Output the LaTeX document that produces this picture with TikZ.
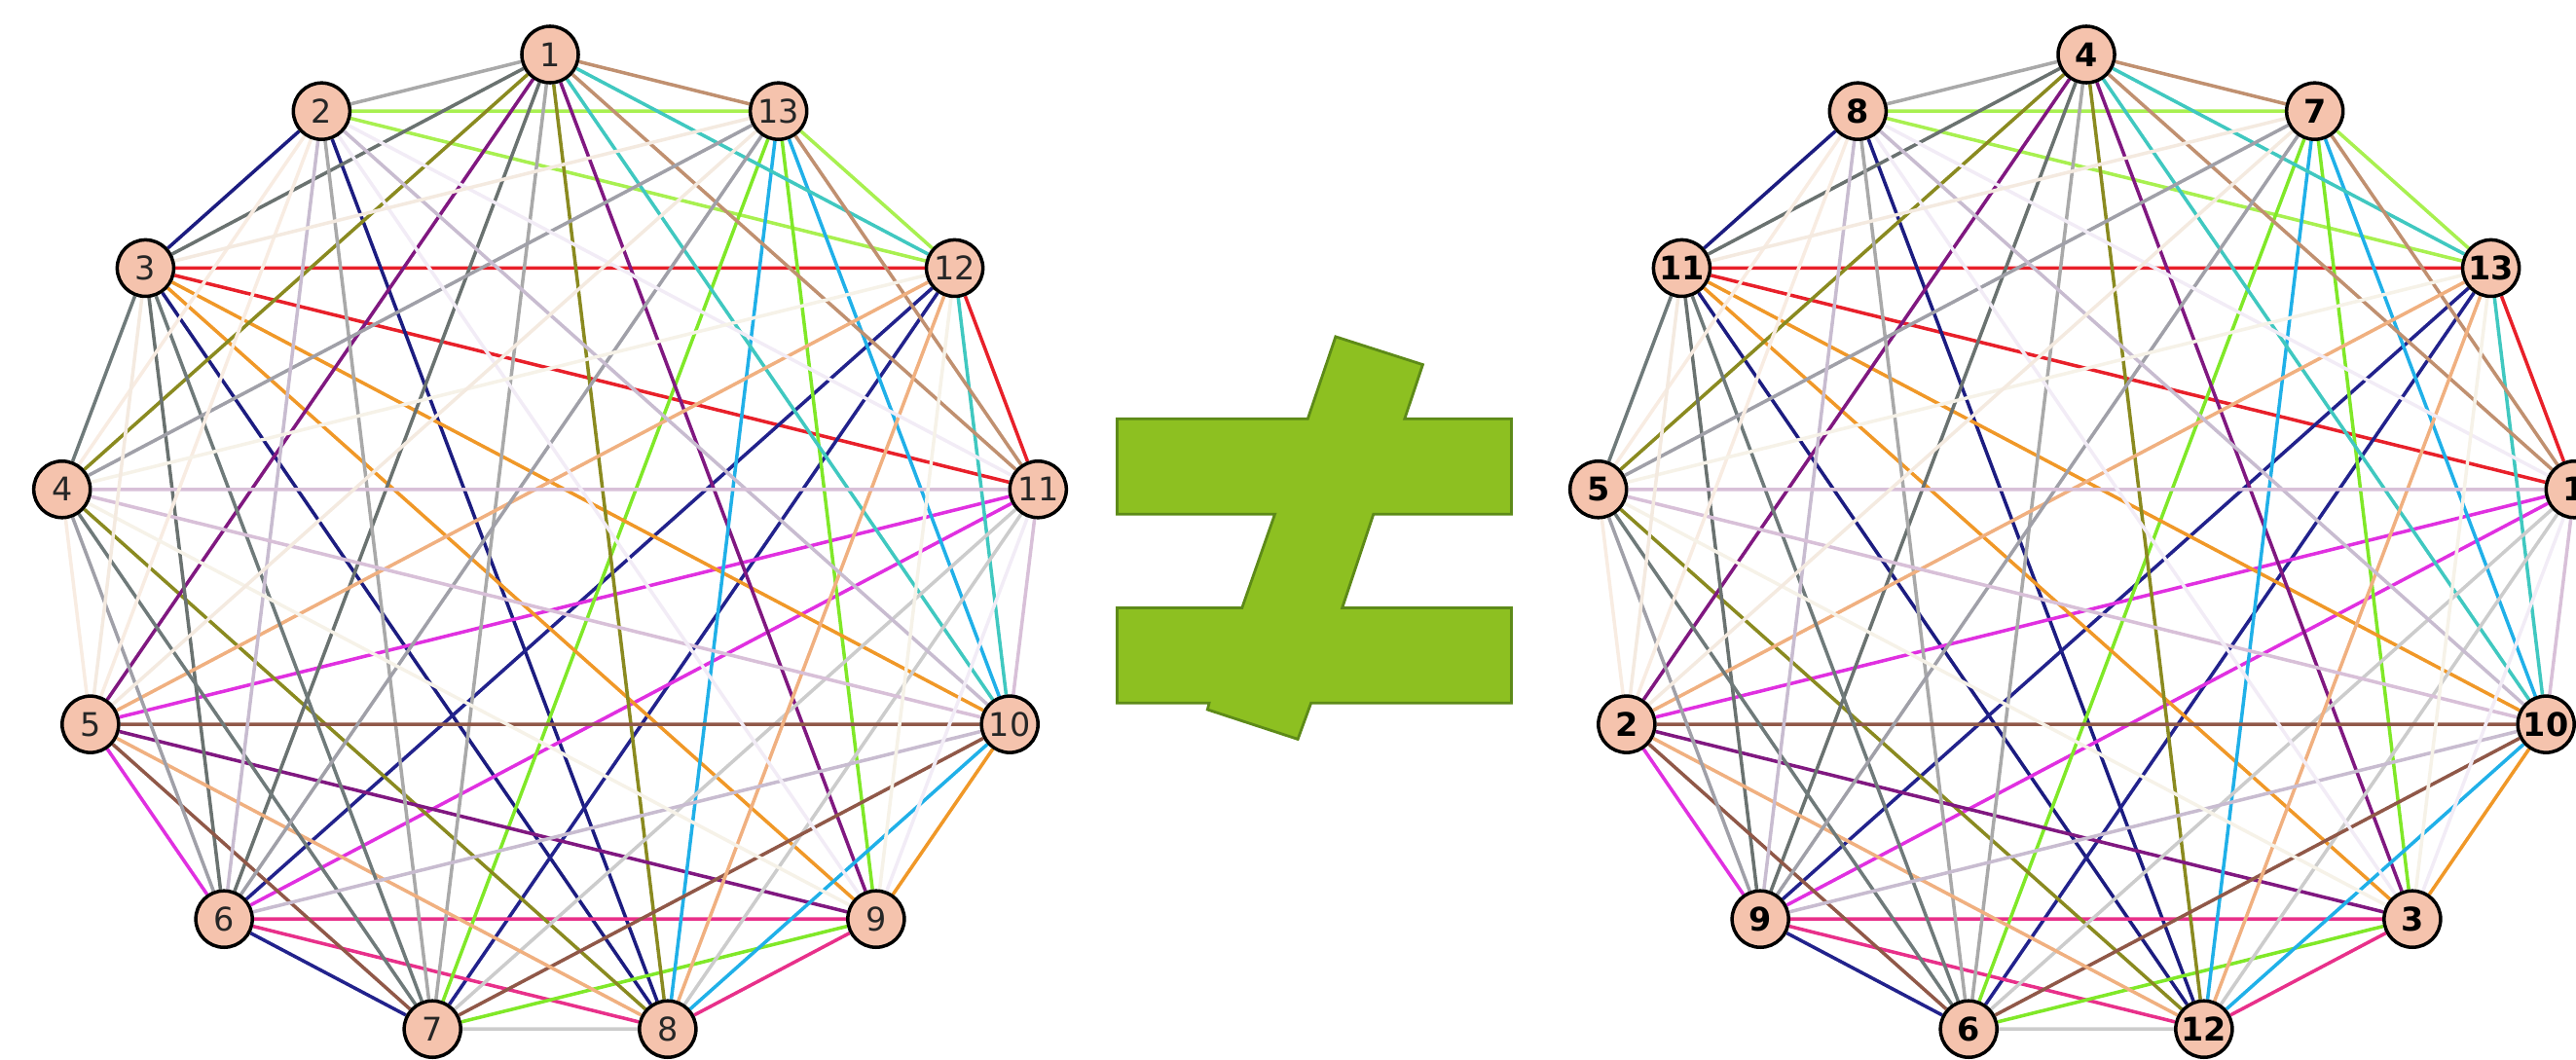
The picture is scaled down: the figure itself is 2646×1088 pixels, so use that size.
\documentclass[tikz,border=0pt]{standalone}
\usepackage{fontspec}
\setmainfont{DejaVu Sans}
\definecolor{nodefill}{HTML}{F5C3AD}
\definecolor{cRed}{HTML}{E8202A}
\definecolor{cNavyA}{HTML}{1C1C80}
\definecolor{cNavyB}{HTML}{22228C}
\definecolor{cDeepPink}{HTML}{E8308A}
\definecolor{cMagenta}{HTML}{E030E0}
\definecolor{cGreenYellow}{HTML}{A8F050}
\definecolor{cLawn}{HTML}{80E828}
\definecolor{cOrange}{HTML}{F09828}
\definecolor{cOlive}{HTML}{8A8A20}
\definecolor{cPurple}{HTML}{801880}
\definecolor{cDimGrey}{HTML}{6A7270}
\definecolor{cSky}{HTML}{20B0E8}
\definecolor{cTurq}{HTML}{40C8C0}
\definecolor{cTan}{HTML}{C09070}
\definecolor{cDarkGrey}{HTML}{A9A9A9}
\definecolor{cLightGrey}{HTML}{CCCCCC}
\definecolor{cBrown}{HTML}{905848}
\definecolor{cSandy}{HTML}{F0B080}
\definecolor{cSlate}{HTML}{6F7A7A}
\definecolor{cGrey}{HTML}{A0A0A8}
\definecolor{cLavGrey}{HTML}{C8BCD0}
\definecolor{cThistle}{HTML}{D8C0D8}
\definecolor{cFaintA}{HTML}{F8ECE2}
\definecolor{cFaintB}{HTML}{F2ECF6}
\definecolor{cFaintC}{HTML}{F6F2E8}
\definecolor{cFaintD}{HTML}{F4EAE0}
\definecolor{neqfill}{HTML}{8DC021}
\definecolor{neqline}{HTML}{5D8A18}
\pgfdeclarelayer{bg}
\pgfsetlayers{bg,main}
\begin{document}
\begin{tikzpicture}[x=0.01cm,y=-0.01cm,
  vtx/.style={circle,draw=black,line width=1pt,fill=nodefill,minimum size=0.58cm,inner sep=0pt,
    text=black!85,font=\fontsize{9.5}{10}\selectfont},
  vtxb/.style={vtx,text=black,font=\fontsize{9.5}{10}\selectfont\bfseries},
  edgeline/.style={line width=1pt},
  neq/.style={fill=neqfill,draw=neqline,line width=0.8pt,line join=miter}]
\useasboundingbox (0,0) rectangle (2646,1088);
% left graph vertices
\foreach \k/\lab in {0/1,1/13,2/12,3/11,4/10,5/9,6/8,7/7,8/6,9/5,10/4,11/3,12/2}
  \node[vtx] (lp\k) at ({565+505*cos(90-\k*360/13)},{564-508*sin(90-\k*360/13)}) {\lab};
% right graph vertices
\foreach \k/\lab in {0/4,1/7,2/13,3/1,4/10,5/3,6/12,7/6,8/9,9/2,10/5,11/11,12/8}
  \node[vtxb] (rp\k) at ({2143+505*cos(90-\k*360/13)},{564-508*sin(90-\k*360/13)}) {\lab};
% edges: triangles of the triple system, by vertex position
\begin{pgfonlayer}{bg}
\foreach \a/\b/\c/\col in {
  11/3/2/cRed, 12/11/6/cNavyA, 8/7/2/cNavyB, 8/6/5/cDeepPink, 9/8/3/cMagenta,
  12/2/1/cGreenYellow, 7/5/1/cLawn, 11/5/4/cOrange, 0/10/6/cOlive, 0/9/5/cPurple,
  0/11/8/cDimGrey, 6/4/1/cSky, 0/4/2/cTurq, 0/3/1/cTan, 0/12/7/cDarkGrey,
  7/6/3/cLightGrey, 9/7/4/cBrown, 9/6/2/cSandy, 11/10/7/cSlate, 10/8/1/cGrey,
  12/8/4/cLavGrey, 10/4/3/cThistle, 12/10/9/cFaintA, 12/5/3/cFaintB,
  10/5/2/cFaintC, 11/9/1/cFaintD}
{
  \draw[edgeline,draw=\col] (lp\a) -- (lp\b) (lp\b) -- (lp\c) (lp\c) -- (lp\a);
  \draw[edgeline,draw=\col] (rp\a) -- (rp\b) (rp\b) -- (rp\c) (rp\c) -- (rp\a);
}
\end{pgfonlayer}
% not-equal sign
\draw[neq] (1147.5,430.3) -- (1343.3,430.3) -- (1371.9,345.9) -- (1461.4,374.6)
  -- (1442.8,430.3) -- (1552.5,430.3) -- (1552.5,528.2) -- (1410.8,528.2)
  -- (1378.7,624.4) -- (1552.5,624.4) -- (1552.5,722.3) -- (1346.6,722.3)
  -- (1333.1,759.4) -- (1240.3,729) -- (1242,722.3) -- (1147.5,722.3)
  -- (1147.5,624.4) -- (1275.8,624.4) -- (1309.5,528.2) -- (1147.5,528.2) -- cycle;
\end{tikzpicture}
\end{document}
